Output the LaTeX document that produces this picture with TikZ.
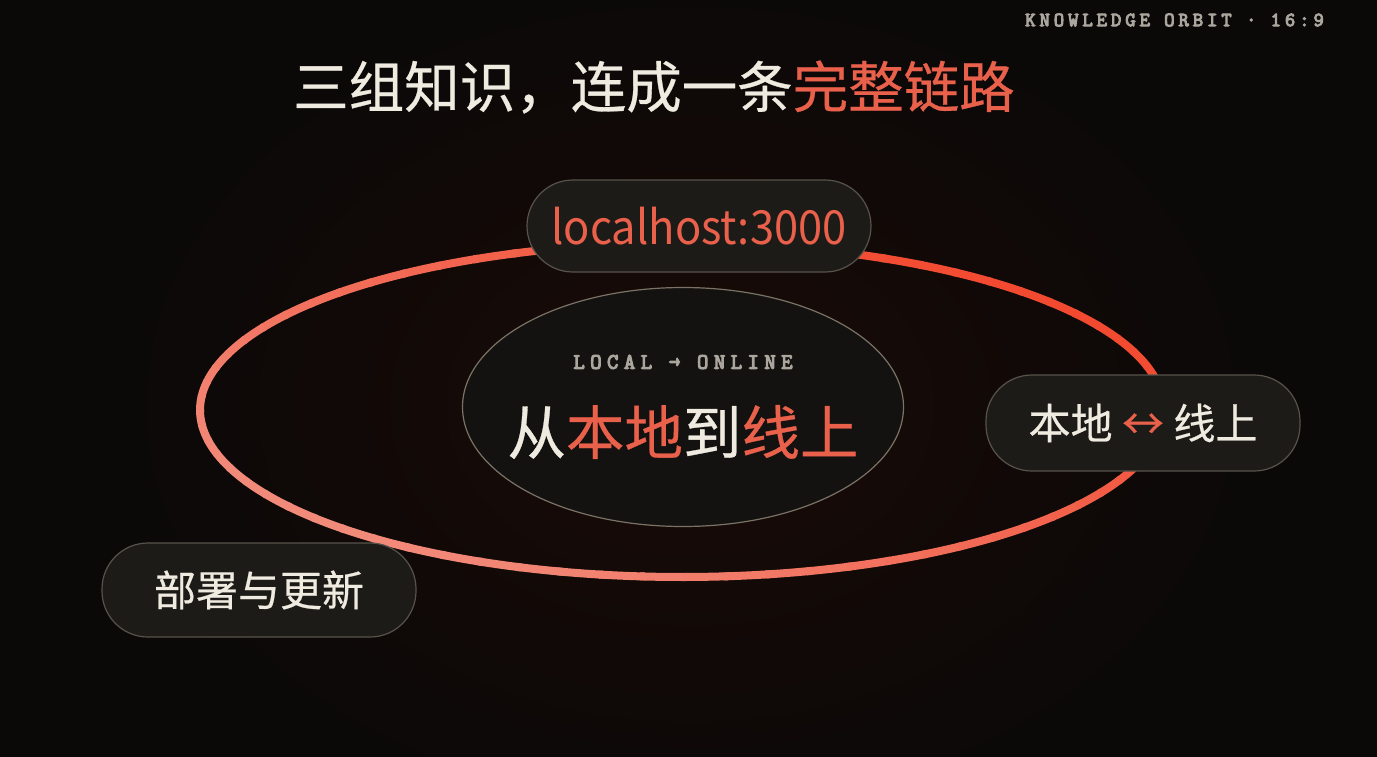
\documentclass[tikz,border=0pt]{standalone}
\usepackage{fontspec}
\setmainfont{Noto Sans CJK SC}
\newfontfamily\heavycjk[FakeBold=0.5]{Noto Sans CJK SC}
\newfontfamily\tagmono[LetterSpace=20, FakeBold=5]{Latin Modern Mono}
\newfontfamily\submono[LetterSpace=25, FakeBold=5]{Latin Modern Mono}
\usetikzlibrary{shapes.geometric}
\definecolor{bg}{HTML}{0A0908}
\definecolor{glow}{HTML}{1A0A06}
\definecolor{cream}{HTML}{EFEBE0}
\definecolor{accent}{HTML}{E9604B}
\definecolor{pillfill}{HTML}{1D1B17}
\definecolor{pillline}{HTML}{57524A}
\definecolor{corefill}{HTML}{131210}
\definecolor{coreline}{HTML}{7A7264}
\definecolor{monogray}{HTML}{ABA69D}
\definecolor{ringlight}{HTML}{F28A7A}
\definecolor{ringbright}{HTML}{F24A30}
\begin{document}
\begin{tikzpicture}[x=1pt,y=-1pt,
  pill/.style={draw=pillline, line width=1.2pt, fill=pillfill, rounded corners=46pt, inner sep=0pt, text=cream},
  core/.style={ellipse, draw=coreline, line width=1.2pt, fill=corefill, inner sep=0pt},
  orbitseg/.style={line width=8pt}]
\useasboundingbox (0,0) rectangle (1377,756);
\fill[bg] (-10,-10) rectangle (1387,766);
\begin{scope}
\clip (0,0) rectangle (1377,756);
\shade[inner color=glow, outer color=bg] (690,405) ellipse [x radius=600pt, y radius=440pt];
\end{scope}

% header
\node[text=monogray, anchor=east, inner sep=0pt] (tag) at (1324,20) {\tagmono\fontsize{20}{22}\selectfont KNOWLEDGE ORBIT · 16:9};
\node[text=cream, inner sep=0pt] (title) at (654,87) {\heavycjk\fontsize{55.5}{60}\selectfont 三组知识，连成一条\textcolor{accent}{完整链路}};

% orbit ring
\coordinate (oc) at (682,410);
\foreach \t in {0,5,...,355}{
  \pgfmathsetmacro\p{50+50*cos(\t-215)}
  \draw[orbitseg, color=ringlight!\p!ringbright] (oc) ++(\t:482pt and 167pt)
    arc[start angle=\t, end angle=\t+5.6, x radius=482pt, y radius=167pt];
}

% core
\node[core, minimum width=441pt, minimum height=239pt] (corenode) at (683,407) {};
\node[text=monogray, inner sep=0pt] (sub) at (683,362) {\submono\fontsize{22}{24}\selectfont LOCAL → ONLINE};
\node[text=cream, inner sep=0pt] (main) at (683,432) {\heavycjk\fontsize{58.5}{62}\selectfont 从\textcolor{accent}{本地}到\textcolor{accent}{线上}};

% pills
\node[pill, minimum width=344pt, minimum height=92pt, text=accent] (host) at (699,226) {\scalebox{0.925}[1]{\fontsize{47}{50}\selectfont localhost:3000}};
\node[pill, minimum width=314pt, minimum height=96pt] (bridge) at (1143,423) {\heavycjk\fontsize{42}{46}\selectfont 本地 \textcolor{accent}{↔} 线上};
\node[pill, minimum width=314pt, minimum height=94pt] (deploy) at (259,590) {\heavycjk\fontsize{42}{46}\selectfont 部署与更新};
\end{tikzpicture}
\end{document}
